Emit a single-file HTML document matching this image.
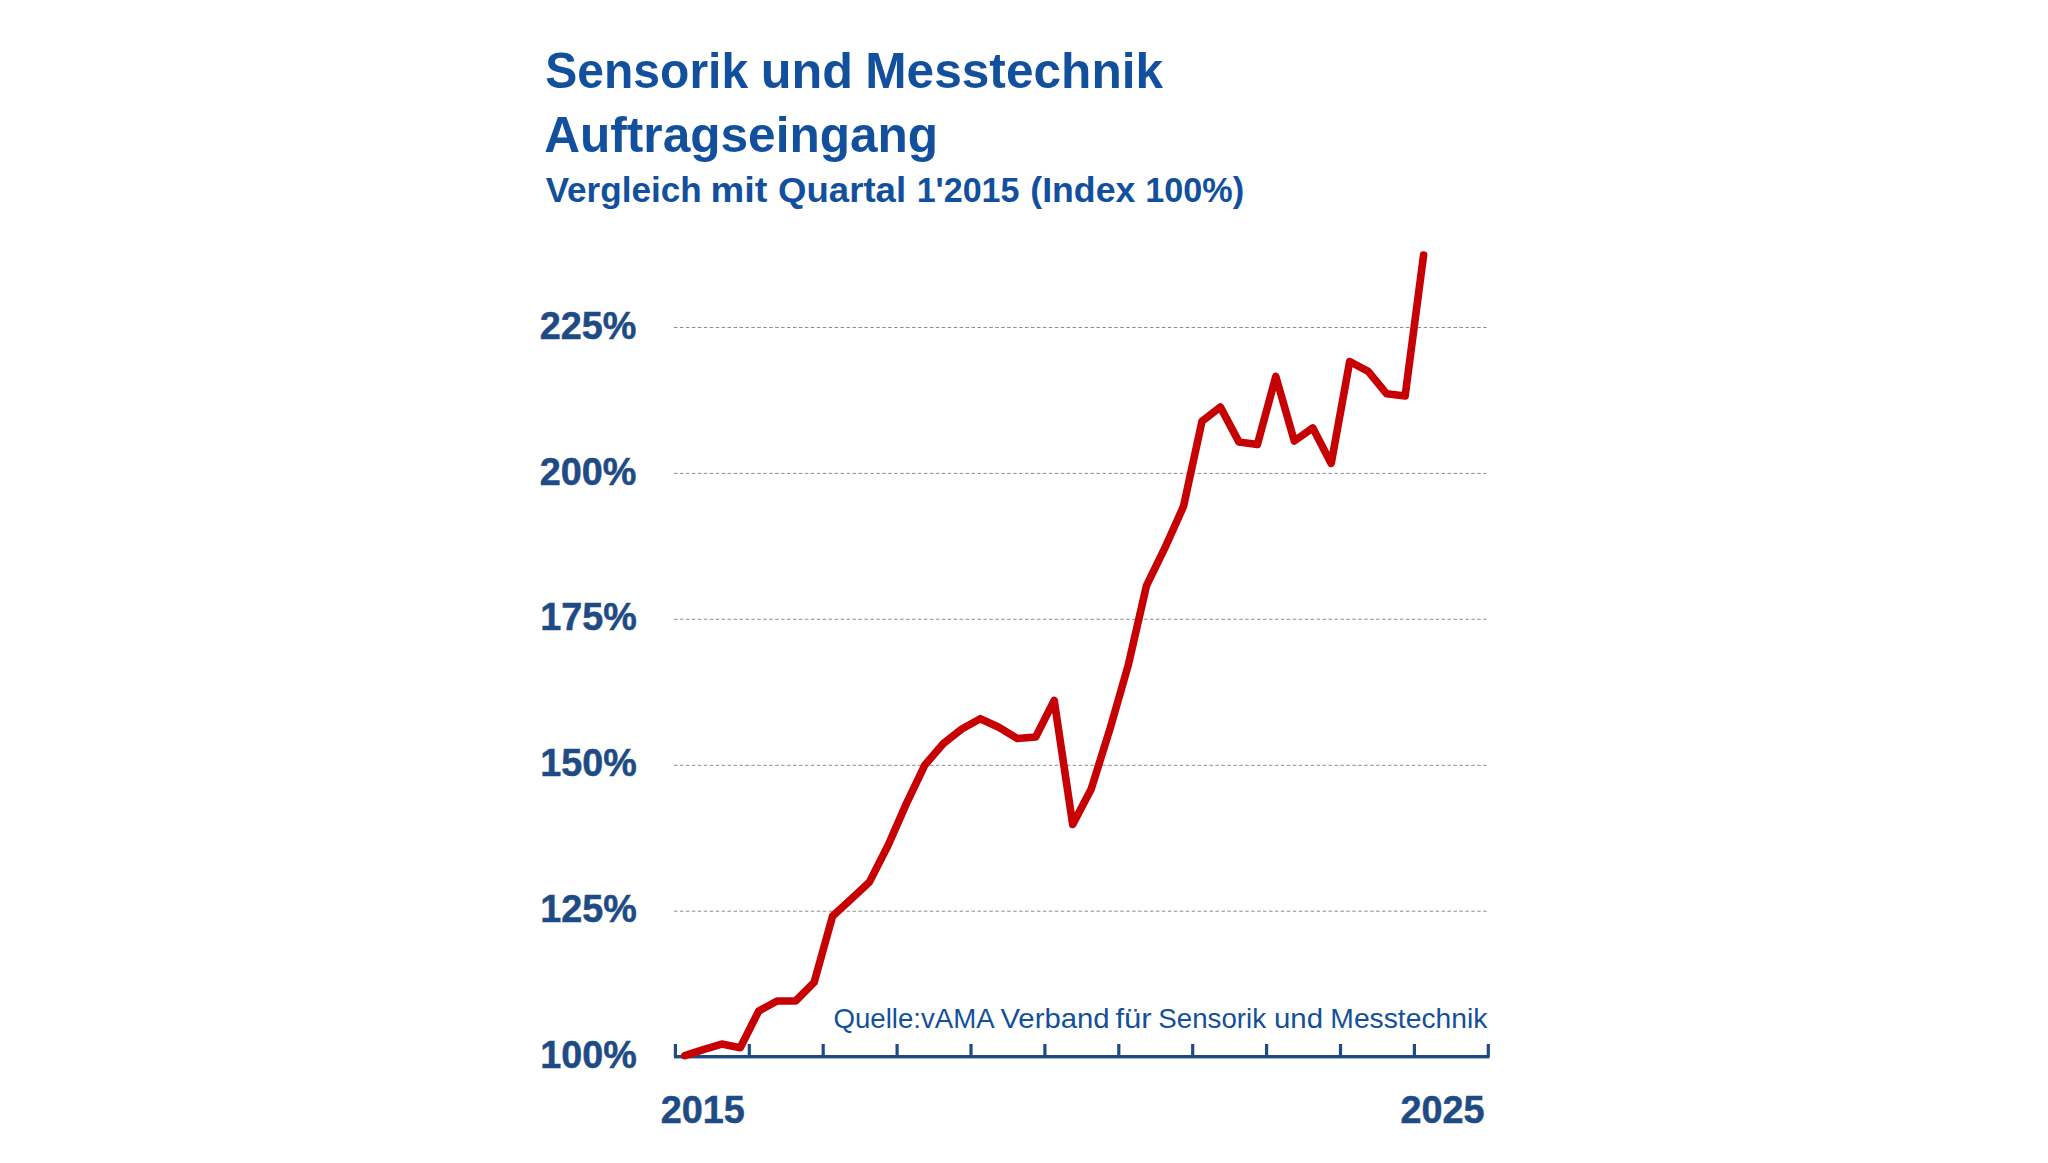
<!DOCTYPE html>
<html lang="de"><head><meta charset="utf-8"><title>Sensorik und Messtechnik – Auftragseingang</title>
<style>
html,body{margin:0;padding:0;background:#fff;}
body{width:2048px;height:1163px;overflow:hidden;}
svg{display:block;font-family:"Liberation Sans","DejaVu Sans",sans-serif;}
.t{font-weight:700;fill:#12509d;}
.a{font-weight:700;fill:#1f4b85;stroke:#1f4b85;stroke-width:0.5px;}
.q{font-weight:400;fill:#14509a;}
</style></head><body>
<svg width="2048" height="1163" viewBox="0 0 2048 1163">
<rect width="2048" height="1163" fill="#ffffff"/>
<line x1="674" y1="327.5" x2="1488" y2="327.5" stroke="#8c8c8c" stroke-width="1" stroke-dasharray="3.5 2.45"/>
<line x1="674" y1="473.4" x2="1488" y2="473.4" stroke="#8c8c8c" stroke-width="1" stroke-dasharray="3.5 2.45"/>
<line x1="674" y1="619.3" x2="1488" y2="619.3" stroke="#8c8c8c" stroke-width="1" stroke-dasharray="3.5 2.45"/>
<line x1="674" y1="765.3" x2="1488" y2="765.3" stroke="#8c8c8c" stroke-width="1" stroke-dasharray="3.5 2.45"/>
<line x1="674" y1="911.2" x2="1488" y2="911.2" stroke="#8c8c8c" stroke-width="1" stroke-dasharray="3.5 2.45"/>
<rect x="674" y="1055" width="815.5" height="3.4" fill="#1f4b85"/>
<rect x="673.8" y="1044" width="3.2" height="13" fill="#1f4b85"/>
<rect x="747.7" y="1044" width="3.2" height="13" fill="#1f4b85"/>
<rect x="821.6" y="1044" width="3.2" height="13" fill="#1f4b85"/>
<rect x="895.5" y="1044" width="3.2" height="13" fill="#1f4b85"/>
<rect x="969.4" y="1044" width="3.2" height="13" fill="#1f4b85"/>
<rect x="1043.3" y="1044" width="3.2" height="13" fill="#1f4b85"/>
<rect x="1117.2" y="1044" width="3.2" height="13" fill="#1f4b85"/>
<rect x="1191.1" y="1044" width="3.2" height="13" fill="#1f4b85"/>
<rect x="1265.0" y="1044" width="3.2" height="13" fill="#1f4b85"/>
<rect x="1338.9" y="1044" width="3.2" height="13" fill="#1f4b85"/>
<rect x="1412.8" y="1044" width="3.2" height="13" fill="#1f4b85"/>
<rect x="1486.7" y="1044" width="3.2" height="13" fill="#1f4b85"/>
<g transform="translate(545.26 87.7) scale(0.9628 1)"><text id="t1a" class="t" x="0" y="0" font-size="49.9">Sensorik</text></g>
<g transform="translate(760.69 87.7) scale(1.0098 1)"><text id="t1b" class="t" x="0" y="0" font-size="49.9">und</text></g>
<g transform="translate(865.18 87.7) scale(0.9951 1)"><text id="t1c" class="t" x="0" y="0" font-size="49.9">Messtechnik</text></g>
<g transform="translate(544.26 152.0) scale(0.9936 1)"><text id="t2" class="t" x="0" y="0" font-size="49.9">Auftragseingang</text></g>
<g transform="translate(545.64 201.6) scale(1.0201 1)"><text id="t3a" class="t" x="0" y="0" font-size="34.4">Vergleich</text></g>
<g transform="translate(710.47 201.6) scale(1.1022 1)"><text id="t3b" class="t" x="0" y="0" font-size="34.4">mit</text></g>
<g transform="translate(778.10 201.6) scale(1.0626 1)"><text id="t3c" class="t" x="0" y="0" font-size="34.4">Quartal</text></g>
<g transform="translate(916.63 201.6) scale(0.9908 1)"><text id="t3d" class="t" x="0" y="0" font-size="34.4">1'2015</text></g>
<g transform="translate(1030.29 201.6) scale(1.0372 1)"><text id="t3e" class="t" x="0" y="0" font-size="34.4">(Index</text></g>
<g transform="translate(1145.25 201.6) scale(0.9948 1)"><text id="t3f" class="t" x="0" y="0" font-size="34.4">100%)</text></g>
<g transform="translate(539.75 338.6) scale(0.9820 1)"><text id="l225" class="a" x="0" y="0" font-size="38.5">225%</text></g>
<g transform="translate(539.75 484.5) scale(0.9820 1)"><text id="l200" class="a" x="0" y="0" font-size="38.5">200%</text></g>
<g transform="translate(540.14 630.4) scale(0.9809 1)"><text id="l175" class="a" x="0" y="0" font-size="38.5">175%</text></g>
<g transform="translate(540.14 776.4) scale(0.9809 1)"><text id="l150" class="a" x="0" y="0" font-size="38.5">150%</text></g>
<g transform="translate(540.14 922.3) scale(0.9809 1)"><text id="l125" class="a" x="0" y="0" font-size="38.5">125%</text></g>
<g transform="translate(540.14 1067.9) scale(0.9809 1)"><text id="l100" class="a" x="0" y="0" font-size="38.5">100%</text></g>
<g transform="translate(660.75 1123.4) scale(0.9820 1)"><text id="x2015" class="a" x="0" y="0" font-size="38.5">2015</text></g>
<g transform="translate(1400.41 1123.4) scale(0.9817 1)"><text id="x2025" class="a" x="0" y="0" font-size="38.5">2025</text></g>
<g transform="translate(833.51 1028.2) scale(0.9696 1)"><text id="s1" class="q" x="0" y="0" font-size="28.5">Quelle:vAMA</text></g>
<g transform="translate(1000.40 1028.2) scale(1.0287 1)"><text id="s2" class="q" x="0" y="0" font-size="28.5">Verband</text></g>
<g transform="translate(1115.38 1028.2) scale(1.0909 1)"><text id="s3" class="q" x="0" y="0" font-size="28.5">für</text></g>
<g transform="translate(1158.27 1028.2) scale(0.9719 1)"><text id="s4" class="q" x="0" y="0" font-size="28.5">Sensorik</text></g>
<g transform="translate(1273.99 1028.2) scale(1.0329 1)"><text id="s5" class="q" x="0" y="0" font-size="28.5">und</text></g>
<g transform="translate(1330.34 1028.2) scale(0.9922 1)"><text id="s6" class="q" x="0" y="0" font-size="28.5">Messtechnik</text></g>
<polyline points="684.8,1055.6 703.3,1049.6 721.7,1044.1 740.2,1047.7 758.7,1011.1 777.1,1001.0 795.6,1001.0 814.1,982.4 832.6,916.1 851.0,899.3 869.5,881.9 888.0,845.5 906.4,803.6 924.9,764.9 943.4,743.4 961.8,729.0 980.3,718.7 998.8,727.3 1017.3,738.5 1035.7,737.0 1054.2,700.4 1072.7,824.5 1091.1,789.3 1109.6,730.2 1128.1,665.8 1146.5,585.7 1165.0,547.7 1183.5,506.4 1202.0,421.3 1220.4,407.1 1238.9,441.9 1257.4,444.5 1275.8,376.5 1294.3,441.0 1312.8,427.9 1331.2,463.4 1349.7,361.5 1368.2,371.3 1386.7,393.8 1405.1,396.0 1423.6,255.0" fill="none" stroke="#c70003" stroke-width="7.6" stroke-linejoin="round" stroke-linecap="round"/>
</svg></body></html>
